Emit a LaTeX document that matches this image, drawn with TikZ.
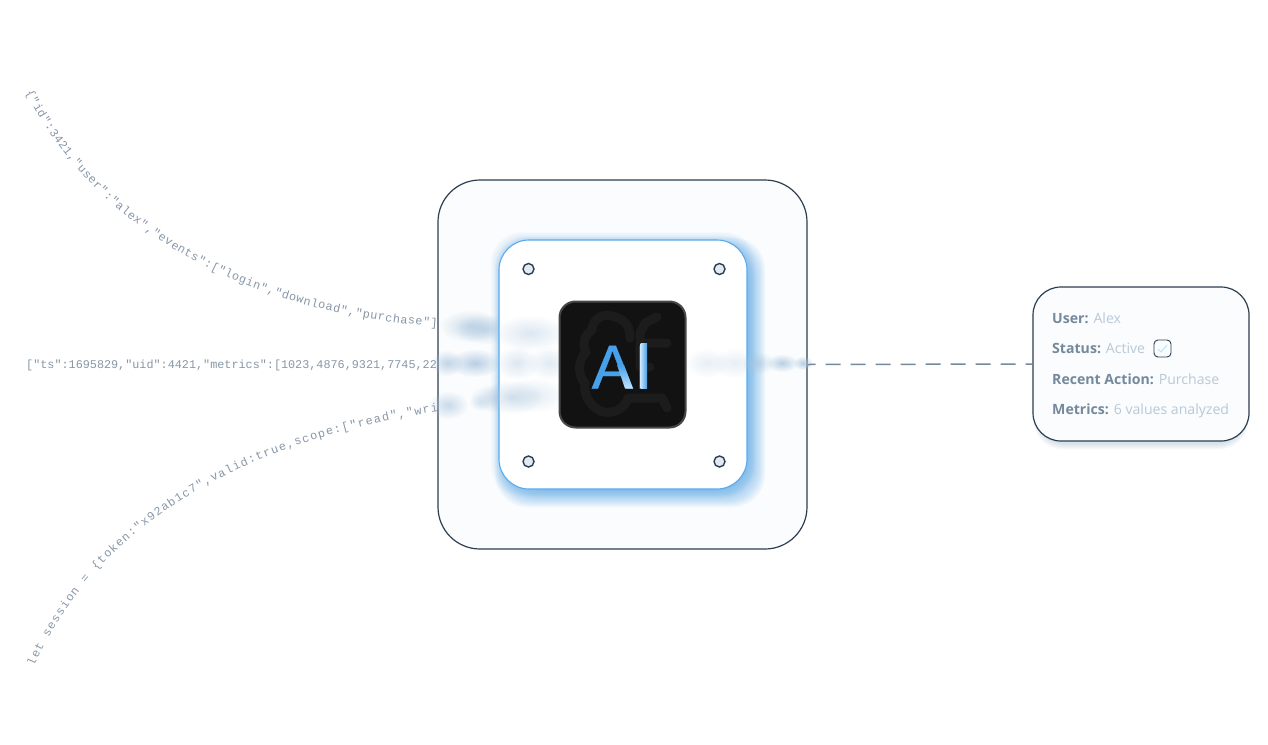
\documentclass[tikz,border=0pt]{standalone}
\usepackage{fontspec}
\usetikzlibrary{decorations.text,fadings}
\newfontfamily\codefont{Liberation Mono}
\newfontfamily\cardfont{Open Sans}
\newfontfamily\aifont[FakeBold=0.6]{Liberation Sans}
\definecolor{ink}{HTML}{2C3E50}
\definecolor{codecol}{HTML}{8797A8}
\definecolor{glow}{HTML}{5AAAEC}
\definecolor{labelcol}{HTML}{75899D}
\definecolor{valuecol}{HTML}{B9C9D8}
\definecolor{blobcol}{HTML}{A8C4DE}
\definecolor{boxfill}{HTML}{FAFCFD}
\definecolor{screwfill}{HTML}{E1EAF3}
\definecolor{aiblue}{HTML}{46A0EA}
\definecolor{ailight}{HTML}{C4E3FB}
\tikzfading[name=softblob,inner color=transparent!0,outer color=transparent!100]
\tikzset{
  codeline/.style={decorate,decoration={text along path,raise=-3.5pt,text align={fit to path},text={#1}}},
  outerbox/.style={draw=ink,line width=1.2pt,fill=boxfill,rounded corners=42pt,minimum width=369pt,minimum height=369pt,inner sep=0pt},
  chipcard/.style={draw=glow,line width=1.1pt,fill=white,rounded corners=30pt,minimum width=248pt,minimum height=249pt,inner sep=0pt},
  chip/.style={draw=black!72,line width=2pt,fill=black!93,rounded corners=16pt,minimum width=126pt,minimum height=126pt,inner sep=0pt},
  screw/.style={circle,draw=ink,line width=1.4pt,fill=screwfill,minimum size=11pt,inner sep=0pt},
  infocard/.style={draw=ink,line width=1.2pt,fill=boxfill,rounded corners=28pt,minimum width=216pt,minimum height=154pt,inner sep=0pt},
  inforow/.style={anchor=base west,inner sep=0pt,font=\cardfont\fontsize{14.1}{16}\selectfont,text=valuecol},
  tick/.style={draw=ink,line width=.9pt,fill=boxfill,rounded corners=4pt,minimum size=17pt,inner sep=0pt},
  link/.style={draw=labelcol,line width=1.5pt,dash pattern=on 15pt off 10pt,dash phase=7pt},
  ghost/.style={draw=black!89,line width=9pt,line cap=round,line join=round}
}
\newcommand{\lab}[1]{\textbf{\textcolor{labelcol}{#1}}}
\newcommand{\blob}[5]{\fill[blobcol,opacity=#5,path fading=softblob] (#1,#2) ellipse [x radius=#3,y radius=#4];}
\begin{document}
\begin{tikzpicture}[x=1pt,y=-1pt]
\useasboundingbox (0,0) rectangle (1268,744);
\fill[white] (0,0) rectangle (1268,744);

% input streams
\path[codeline={|\codefont\fontsize{11.8}{12}\selectfont\color{codecol}|{\{}"id":3421,"user":"alex","events":["login","download","purchase"]}]
  (29,91) .. controls (100,230) and (250,310) .. (437,323);
\path[codeline={|\codefont\fontsize{11.8}{12}\selectfont\color{codecol}|let session = {\{}token:"x92ab1c7",valid:true,scope:["read","wri}]
  (31,665) .. controls (90,530) and (230,440) .. (437,408);
\node[anchor=base west,inner sep=0pt,text=codecol,font=\codefont\fontsize{11.8}{12}\selectfont] (stream) at (26,368) {["ts":1695829,"uid":4421,"metrics":[1023,4876,9321,7745,22};

% hub
\node[outerbox] (box) at (622.5,364.5) {};

% chip card glow
\foreach \i in {-10,...,10}{
  \fill[glow,opacity=.05,rounded corners=32pt] ({505-\i},{247-\i}) rectangle ({755+\i},{497+\i});
}
\foreach \i in {1,...,8}{
  \fill[glow,opacity=.03,rounded corners=31pt] ({499-\i},{240-\i}) rectangle ({747+\i},{489+\i});
}
% blurred streams left of the chip card
\blob{447}{363}{16}{13}{.7}\blob{475}{363}{27}{14}{.8}
\blob{470}{326}{30}{16}{.6}\blob{485}{329}{30}{15}{.6}
\blob{448}{405}{20}{14}{.6}\blob{480}{402}{11}{9}{.35}\blob{500}{398}{30}{15}{.6}

\node[chipcard] (card) at (623,364.5) {};

% blurred streams seen through the chip card
\blob{530}{333}{38}{18}{.4}
\blob{517}{363}{22}{17}{.4}\blob{549}{363}{22}{17}{.35}
\blob{512}{397}{30}{17}{.5}\blob{535}{395}{32}{18}{.3}
\blob{707}{363}{22}{15}{.28}\blob{735}{363}{22}{15}{.28}
\blob{758}{363}{16}{11}{.6}\blob{782}{363}{16}{9}{.8}\blob{803}{363}{10}{7}{.8}

\node[screw] (s1) at (528.5,269) {};
\node[screw] (s2) at (719.5,269) {};
\node[screw] (s3) at (528.5,461.5) {};
\node[screw] (s4) at (719.5,461.5) {};

% chip
\node[chip] (chipcore) at (622.5,364.5) {};
\draw[ghost] (630,338) .. controls (630,325) and (625,318) .. (607,315) .. controls (598,316) and (592,322) .. (592,330) .. controls (584,335) and (582,345) .. (586,352) .. controls (578,360) and (577,375) .. (585,383) .. controls (583,395) and (590,405) .. (600,411) .. controls (610,415) and (625,410) .. (628,398);
\draw[ghost] (657,317) -- (645,323) -- (640,333) -- (640,367) -- (650,367) (640,343) -- (667,343) (630,398) -- (662,398) -- (667,408);
\node[inner sep=0pt,anchor=base,font=\aifont\fontsize{62}{62}\selectfont] (ai) at (621.5,388.5) {\textcolor{aiblue}{A}\kern1pt\textcolor{aiblue}{I}};
% highlights on the two letters
\shade[top color=aiblue,bottom color=ailight] (617,365) -- (624,365) -- (633,388.5) -- (625,388.5) -- cycle;
\shade[left color=ailight,right color=aiblue] (640.5,343) rectangle (647,388.5);

% result card
\foreach \i in {0,...,6}{
  \fill[glow!50!ink!60!white,opacity=.05,rounded corners=29pt] ({1036-\i*.4},{293-\i*.4}) rectangle ({1246+\i*.4},{444+\i*.9});
}
\node[infocard] (result) at (1141,364) {};
\node[inforow] (r1) at (1052,323) {\lab{User:} Alex};
\node[inforow] (r2) at (1052,353) {\lab{Status:} Active};
\node[inforow] (r3) at (1052,384) {\lab{Recent Action:} Purchase};
\node[inforow] (r4) at (1052,414) {\lab{Metrics:} 6 values analyzed};
\node[tick] (check) at (1162.5,348.5) {};
\draw[draw=blue!30!cyan!30!white,line width=1pt] (1158,349) -- (1161,352) -- (1167,345);

\path[link] (box.east) -- (result.west);
\end{tikzpicture}
\end{document}
